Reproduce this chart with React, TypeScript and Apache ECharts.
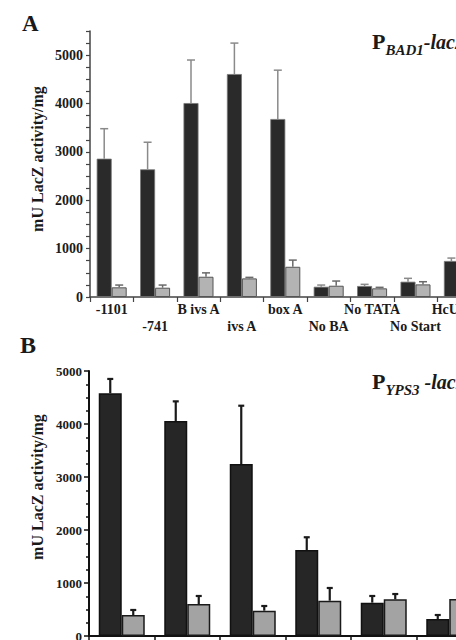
import React, { useEffect, useRef } from "react";
import * as echarts from "echarts";

const catsA = ["-1101", "-741", "B ivs A", "ivs A", "box A", "No BA", "No TATA", "No Start", "HcURA5"];
const blackA = [2860, 2640, 4010, 4610, 3680, 212, 227, 316, 745];
const blackErrA = [620, 560, 890, 640, 1010, 35, 35, 70, 60];
const greyA = [200, 192, 419, 385, 625, 233, 179, 261, 180];
const greyErrA = [47, 55, 80, 21, 138, 97, 21, 55, 40];

const catsB = ["1", "2", "3", "4", "5", "6"];
const blackB = [4580, 4057, 3245, 1623, 629, 321];
const blackErrB = [270, 370, 1100, 240, 126, 75];
const greyB = [396, 604, 478, 666, 692, 698];
const greyErrB = [95, 151, 88, 240, 100, 80];

const yTicksA = [0, 1000, 2000, 3000, 4000, 5000];

const SERIF = "'Liberation Serif', 'Times New Roman', serif";

function errSeries(
  vals: number[],
  errs: number[],
  axis: number,
  offset: number,
  color: string,
  lw: number,
  cap: number
) {
  return {
    type: "custom",
    xAxisIndex: axis,
    yAxisIndex: axis,
    z: 5,
    silent: true,
    encode: { x: 0, y: 1 },
    data: vals.map((v, i) => [i, v, errs[i]]),
    renderItem: (params: any, api: any) => {
      const i = api.value(0);
      const v = api.value(1);
      const e = api.value(2);
      const base = api.coord([i, v]);
      const top = api.coord([i, v + e]);
      const x = base[0] + offset;
      const style = { stroke: color, lineWidth: lw };
      return {
        type: "group",
        children: [
          { type: "line", shape: { x1: x, y1: base[1], x2: x, y2: top[1] }, style },
          { type: "line", shape: { x1: x - cap, y1: top[1], x2: x + cap, y2: top[1] }, style },
        ],
      };
    },
  };
}

export default function App() {
  const ref = useRef<HTMLDivElement>(null);
  useEffect(() => {
    if (!ref.current) return;
    const chart = echarts.init(ref.current, null, { renderer: "svg" });
    const bwA = 15;
    const bwB = 23;
    const option: any = {
      animation: false,
      backgroundColor: "#ffffff",
      grid: [
        { left: 90, top: 31, width: 390.6, height: 266 },
        { left: 89, top: 371, width: 393, height: 265 },
      ],
      xAxis: [
        {
          type: "category",
          gridIndex: 0,
          data: catsA,
          axisLine: { lineStyle: { color: "#444", width: 1.5 } },
          axisTick: { show: true, length: 5, interval: 0, lineStyle: { color: "#444", width: 1.2 } },
          axisLabel: {
            interval: 0,
            margin: 4,
            color: "#1a1a1a",
            fontFamily: SERIF,
            fontWeight: "bold",
            fontSize: 14,
            lineHeight: 17,
            formatter: (v: string, i: number) => (i % 2 === 1 ? "\n" + v : v),
          },
        },
        {
          type: "category",
          gridIndex: 1,
          data: catsB,
          axisLine: { lineStyle: { color: "#111", width: 2 } },
          axisTick: { show: true, length: 5, interval: 0, lineStyle: { color: "#111", width: 1.5 } },
          axisLabel: { show: false },
        },
      ],
      yAxis: [
        {
          type: "value",
          gridIndex: 0,
          min: 0,
          max: 5500,
          interval: 250,
          splitLine: { show: false },
          axisLine: { show: true, lineStyle: { color: "#444", width: 1.5 } },
          axisTick: { show: true, length: 4, lineStyle: { color: "#444", width: 1.2 } },
          axisLabel: {
            margin: 7,
            color: "#1a1a1a",
            fontFamily: SERIF,
            fontWeight: "bold",
            fontSize: 14,
            formatter: (v: number) => (yTicksA.indexOf(v) >= 0 ? String(v) : ""),
          },
        },
        {
          type: "value",
          gridIndex: 1,
          min: 0,
          max: 5000,
          interval: 1000,
          splitLine: { show: false },
          axisLine: { show: true, lineStyle: { color: "#111", width: 2 } },
          axisTick: { show: true, length: 5, lineStyle: { color: "#111", width: 1.5 } },
          minorTick: { show: true, splitNumber: 4, length: 3, lineStyle: { color: "#111", width: 1.5 } },
          axisLabel: {
            margin: 7,
            color: "#1a1a1a",
            fontFamily: SERIF,
            fontWeight: "bold",
            fontSize: 13,
            formatter: (v: number) => String(v),
          },
        },
      ],
      series: [
        {
          type: "bar",
          xAxisIndex: 0,
          yAxisIndex: 0,
          data: blackA,
          barWidth: bwA,
          barGap: "0%",
          itemStyle: { color: "#2a2a2a", borderColor: "#777", borderWidth: 0.8 },
        },
        {
          type: "bar",
          xAxisIndex: 0,
          yAxisIndex: 0,
          data: greyA,
          barWidth: bwA,
          barGap: "0%",
          itemStyle: { color: "#b3b3b3", borderColor: "#555", borderWidth: 1 },
        },
        errSeries(blackA, blackErrA, 0, -bwA / 2, "#8a8a8a", 1.5, 4),
        errSeries(greyA, greyErrA, 0, bwA / 2, "#6a6a6a", 1.5, 4),
        {
          type: "bar",
          xAxisIndex: 1,
          yAxisIndex: 1,
          data: blackB,
          barWidth: bwB,
          barGap: "0%",
          itemStyle: { color: "#262626", borderColor: "#111", borderWidth: 1.5 },
        },
        {
          type: "bar",
          xAxisIndex: 1,
          yAxisIndex: 1,
          data: greyB,
          barWidth: bwB,
          barGap: "0%",
          itemStyle: { color: "#a3a3a3", borderColor: "#1a1a1a", borderWidth: 1.5 },
        },
        errSeries(blackB, blackErrB, 1, -bwB / 2, "#1a1a1a", 2.2, 3),
        errSeries(greyB, greyErrB, 1, bwB / 2, "#1a1a1a", 2.2, 3),
      ],
      graphic: [
        {
          type: "text",
          left: 22,
          top: 12,
          style: { text: "A", font: `bold 23px ${SERIF}`, fill: "#1a1a1a" },
        },
        {
          type: "text",
          left: 20,
          top: 333,
          style: { text: "B", font: `bold 24px ${SERIF}`, fill: "#1a1a1a" },
        },
        {
          type: "text",
          x: 37,
          y: 159,
          rotation: Math.PI / 2,
          style: {
            text: "mU LacZ activity/mg",
            font: `bold 16px ${SERIF}`,
            fill: "#1a1a1a",
            align: "center",
            verticalAlign: "middle",
          },
        },
        {
          type: "text",
          x: 37,
          y: 487,
          rotation: Math.PI / 2,
          style: {
            text: "mU LacZ activity/mg",
            font: `bold 16px ${SERIF}`,
            fill: "#1a1a1a",
            align: "center",
            verticalAlign: "middle",
          },
        },
        {
          type: "text",
          left: 372,
          top: 30,
          style: {
            text: "{p|P}{s|BAD1}{l|-lacZ}",
            fill: "#1a1a1a",
            rich: {
              p: { fontFamily: SERIF, fontWeight: "bold", fontSize: 22, verticalAlign: "bottom", padding: [0, 0, 5, 0] },
              s: { fontFamily: SERIF, fontWeight: "bold", fontStyle: "italic", fontSize: 15, verticalAlign: "bottom" },
              l: { fontFamily: SERIF, fontWeight: "bold", fontStyle: "italic", fontSize: 20, verticalAlign: "bottom", padding: [0, 0, 5, 0] },
            },
          },
        },
        {
          type: "text",
          left: 372,
          top: 370,
          style: {
            text: "{p|P}{s|YPS3}{l| -lacZ}",
            fill: "#1a1a1a",
            rich: {
              p: { fontFamily: SERIF, fontWeight: "bold", fontSize: 22, verticalAlign: "bottom", padding: [0, 0, 5, 0] },
              s: { fontFamily: SERIF, fontWeight: "bold", fontStyle: "italic", fontSize: 15, verticalAlign: "bottom" },
              l: { fontFamily: SERIF, fontWeight: "bold", fontStyle: "italic", fontSize: 20, verticalAlign: "bottom", padding: [0, 0, 5, 0] },
            },
          },
        },
      ],
    };
    chart.setOption(option);
    return () => chart.dispose();
  }, []);
  return (
    <div
      ref={ref}
      style={{ position: "fixed", left: 0, top: 0, width: 560, height: 700, background: "#fff" }}
    />
  );
}
